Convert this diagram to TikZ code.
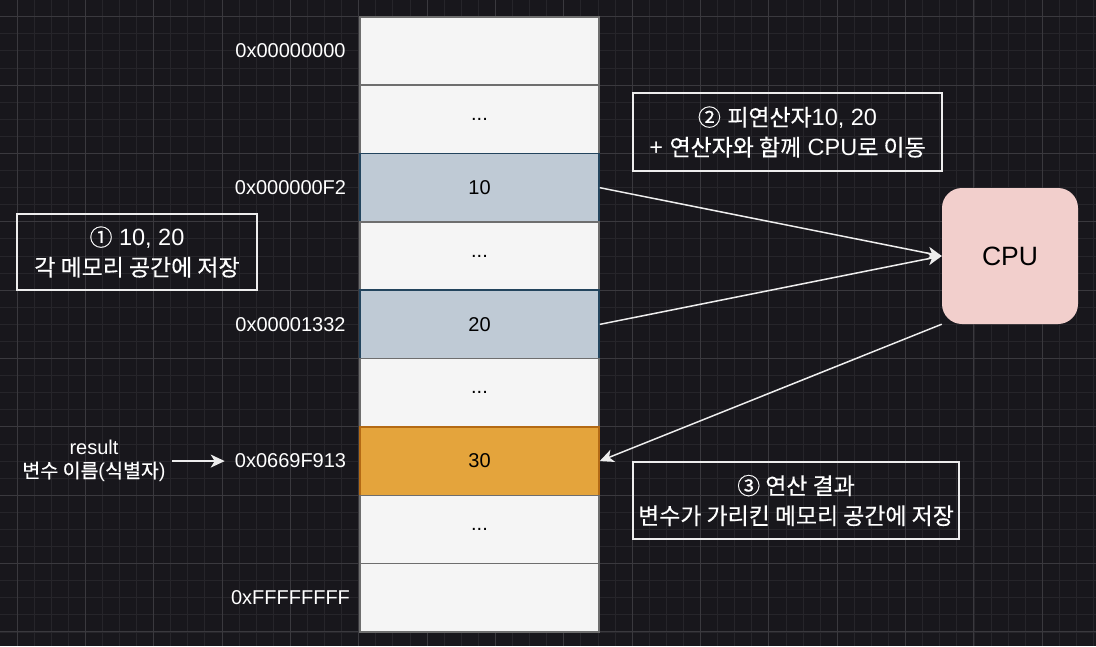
\documentclass[tikz,border=0pt]{standalone}
\usepackage{fontspec}
\setmainfont{Liberation Sans}
\newfontfamily\kr[Scale=0.975,FakeBold=0.4]{Noto Sans CJK KR}
\usetikzlibrary{arrows.meta}
\definecolor{bg}{HTML}{18171C}
\definecolor{gminor}{HTML}{26252A}
\definecolor{gmajor}{HTML}{3A393E}
\definecolor{cellfill}{HTML}{F5F5F5}
\definecolor{cellline}{HTML}{6E6E6E}
\definecolor{bluefill}{HTML}{BFCAD5}
\definecolor{blueline}{HTML}{23445D}
\definecolor{orfill}{HTML}{E4A43C}
\definecolor{orline}{HTML}{B46A14}
\definecolor{cpufill}{HTML}{F2CFCC}
\definecolor{wline}{HTML}{EDEDED}
\tikzset{
  cell/.style={draw=cellline, fill=cellfill, line width=1.5pt, minimum width=239pt, minimum height=68.35pt, inner sep=0pt, text=black, font=\fontsize{20}{24}\selectfont},
  bluecell/.style={cell, draw=blueline, fill=bluefill},
  orcell/.style={cell, draw=orline, fill=orfill},
  addr/.style={text=white, font=\fontsize{20}{24}\selectfont, inner sep=0pt},
  note/.style={draw=wline, line width=1.5pt, text=white, align=center, inner sep=0pt, font=\fontsize{23.5}{30}\selectfont},
  conn/.style={draw=wline, line width=1.5pt, -{Stealth[length=14pt,width=13pt,inset=4pt]}},
}
\begin{document}
\begin{tikzpicture}[x=1pt,y=-1pt]
\useasboundingbox (0,0) rectangle (1096,646);
\fill[bg] (0,0) rectangle (1096,646);
% grid
\foreach \k in {-1,...,64} {
  \draw[gminor, line width=1pt] ({17+\k*17.09},0) -- ({17+\k*17.09},646);
}
\foreach \k in {-1,...,38} {
  \draw[gminor, line width=1pt] (0,{16.8+\k*17.09}) -- (1096,{16.8+\k*17.09});
}
\foreach \k in {0,...,16} {
  \draw[gmajor, line width=1pt] ({17+\k*68.35},0) -- ({17+\k*68.35},646);
}
\foreach \k in {0,...,9} {
  \draw[gmajor, line width=1pt] (0,{16.8+\k*68.35}) -- (1096,{16.8+\k*68.35});
}
% memory cells
\node[cell] (c0) at (479.5,{16.8+0.5*68.35}) {};
\node[cell] (c1) at (479.5,{16.8+1.5*68.35}) {...};
\node[bluecell] (c2) at (479.5,{16.8+2.5*68.35}) {10};
\node[cell] (c3) at (479.5,{16.8+3.5*68.35}) {...};
\node[bluecell] (c4) at (479.5,{16.8+4.5*68.35}) {20};
\node[cell] (c5) at (479.5,{16.8+5.5*68.35}) {...};
\node[orcell] (c6) at (479.5,{16.8+6.5*68.35}) {30};
\node[cell] (c7) at (479.5,{16.8+7.5*68.35}) {...};
\node[cell] (c8) at (479.5,{16.8+8.5*68.35}) {};
% addresses
\node[addr] (a0) at (290.5,{16.8+0.5*68.35}) {0x00000000};
\node[addr] (a2) at (290.5,{16.8+2.5*68.35}) {0x000000F2};
\node[addr] (a4) at (290.5,{16.8+4.5*68.35}) {0x00001332};
\node[addr] (a6) at (290.5,{16.8+6.5*68.35}) {0x0669F913};
\node[addr] (a8) at (290.5,{16.8+8.5*68.35}) {0xFFFFFFFF};
% variable name label
\node[text=white, align=center, inner sep=0pt, font=\fontsize{20}{23}\selectfont] (res) at (94,{16.8+6.5*68.35}) {result\\{\kr 변수 이름}({\kr 식별자})};
\draw[conn] ([xshift=6pt]res.east) -- ([xshift=-10pt]a6.west);
% CPU
\node[fill=cpufill, rounded corners=20pt, minimum width=136pt, minimum height=136pt, inner sep=0pt, text=black, font=\fontsize{26.5}{30}\selectfont] (cpu) at (1010,256) {CPU};
% notes
\node[note, minimum width=240pt, minimum height=76pt] (n1) at (137,252) {{\kr ①} 10, 20\\{\kr 각 메모리 공간에 저장}};
\node[note, minimum width=309pt, minimum height=78pt] (n2) at (787.5,132) {{\kr ②} {\kr 피연산자}10, 20\\+ {\kr 연산자와 함께} CPU{\kr 로 이동}};
\node[note, minimum width=326pt, minimum height=77pt] (n3) at (796,500.5) {{\kr ③ 연산 결과}\\{\kr 변수가 가리킨 메모리 공간에 저장}};
% connectors
\draw[conn] (c2.east) -- (cpu.west);
\draw[conn] (c4.east) -- (cpu.west);
\draw[conn] (cpu.south west) -- (c6.east);
\end{tikzpicture}
\end{document}
